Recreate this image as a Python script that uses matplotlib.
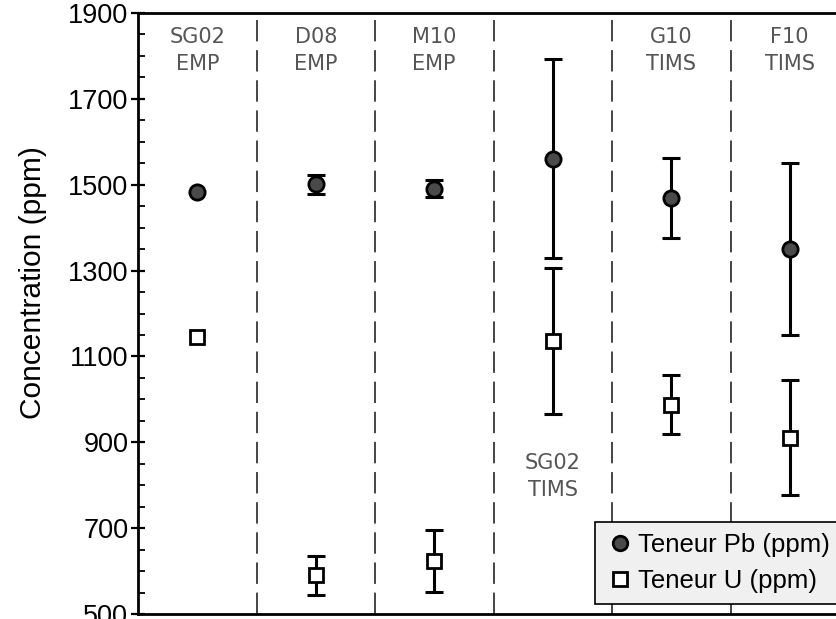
import matplotlib
matplotlib.use("Agg")
import matplotlib.pyplot as plt
from matplotlib.ticker import MultipleLocator

# Data
samples = ["SG02\nEMP", "D08\nEMP", "M10\nEMP", "SG02\nTIMS", "G10\nTIMS", "F10\nTIMS"]
pb_vals = [1484, 1501, 1491, 1561, 1470, 1350]
pb_err = [0, 22, 19, 232, 93, 200]
u_vals = [1145, 590, 624, 1136, 988, 911]
u_err = [0, 45, 72, 171, 69, 134]
yticks = [500, 700, 900, 1100, 1300, 1500, 1700, 1900]

fig = plt.figure(figsize=(8.36, 6.19), dpi=100)
ax = fig.add_axes([138/836, 5/619, 711/836, 601/619])

x = [i + 0.5 for i in range(len(samples))]

def with_err(vals, errs):
    xs = [xi for xi, e in zip(x, errs) if e > 0]
    ys = [v for v, e in zip(vals, errs) if e > 0]
    es = [e for e in errs if e > 0]
    return xs, ys, es

xs, ys, es = with_err(pb_vals, pb_err)
ax.errorbar(xs, ys, yerr=es, fmt='none', ecolor='black', elinewidth=2.2,
            capsize=6.5, capthick=2.2, zorder=2)
xs, ys, es = with_err(u_vals, u_err)
ax.errorbar(xs, ys, yerr=es, fmt='none', ecolor='black', elinewidth=2.2,
            capsize=6.5, capthick=2.2, zorder=2)

ax.plot(x, pb_vals, 'o', markersize=11, markerfacecolor='#4a4a4a',
        markeredgecolor='black', markeredgewidth=2, label='Teneur Pb (ppm)', zorder=3)
ax.plot(x, u_vals, 's', markersize=10.5, markerfacecolor='white',
        markeredgecolor='black', markeredgewidth=2, label='Teneur U (ppm)', zorder=3)

for i in range(1, len(samples)):
    ax.axvline(i, color='#444444', linewidth=1.4, linestyle=(0, (11, 4.5)), zorder=1)

label_font = ['DejaVu Sans']
for i, s in enumerate(samples):
    yy = 821 if i == 3 else 1812
    ax.text(i + 0.5, yy, s, ha='center', va='center', fontsize=15,
            color='#555555', family=label_font, linespacing=1.45)

ax.set_xlim(0, len(samples))
ax.set_ylim(500, 1900)
ax.set_yticks(yticks)
ax.yaxis.set_minor_locator(MultipleLocator(50))
ax.set_xticks([])
ax.tick_params(axis='y', which='major', direction='inout', length=10, width=1.6,
               labelsize=19.5, pad=2)
ax.tick_params(axis='y', which='minor', direction='in', length=5, width=1.3)
for lab in ax.get_yticklabels():
    lab.set_family(['Liberation Sans', 'DejaVu Sans'])
ax.set_ylabel('Concentration (ppm)', fontsize=21.5, family=['Liberation Sans', 'DejaVu Sans'],
              labelpad=4)
ax.yaxis.set_label_coords(-0.128, 0.552)

for sp in ['left', 'bottom', 'top', 'right']:
    ax.spines[sp].set_linewidth(2)

leg = ax.legend(loc='lower left', bbox_to_anchor=(0.643, 0.016), frameon=True,
                fancybox=False, prop={'family': ['Liberation Sans', 'DejaVu Sans'], 'size': 18.5},
                handletextpad=0.2, handlelength=1.0, borderpad=0.45, labelspacing=0.45,
                borderaxespad=0, markerscale=0.95)
leg.get_frame().set_facecolor('#f0f0f0')
leg.get_frame().set_edgecolor('black')
leg.get_frame().set_linewidth(1.2)
leg.get_frame().set_alpha(1)

fig.savefig('out.png', dpi=100)
